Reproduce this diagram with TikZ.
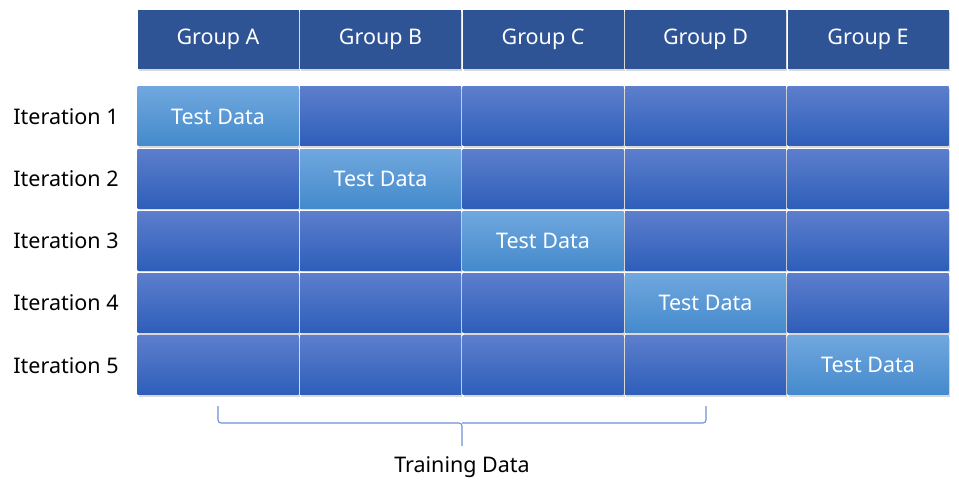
\documentclass[tikz,border=0pt]{standalone}
\usepackage{fontspec}
\setmainfont{Noto Sans}
\usepackage{tikz}
\usetikzlibrary{shadows, positioning}
\usepackage{xcolor}

\definecolor{headblue}{RGB}{47,84,150}
\definecolor{trainTop}{RGB}{92,126,204}
\definecolor{trainBot}{RGB}{46,94,186}
\definecolor{testTop}{RGB}{112,167,222}
\definecolor{testBot}{RGB}{68,138,204}
\definecolor{braceblue}{RGB}{110,145,212}

\begin{document}
\begin{tikzpicture}[
	x=1pt, y=-1pt,
	every node/.style={font=\fontsize{21.5}{25}\selectfont},
	block/.style={minimum width=161pt, minimum height=59pt, inner sep=0pt, text=white,
		drop shadow={shadow xshift=1pt, shadow yshift=-2pt, opacity=0.3}},
	header/.style={block, fill=headblue},
	train cell/.style={block, top color=trainTop, bottom color=trainBot},
	test cell/.style={block, top color=testTop, bottom color=testBot},
	row label/.style={text=black},
	brace line/.style={draw=braceblue, line width=1.1pt, rounded corners=3pt}
	]
	\useasboundingbox (0,0) rectangle (959,492);

	% =====================================================
	% KOPFZEILE (Gruppen)
	% =====================================================
	\node[header] (GroupA) at (218,39.5) {Group A};
	\node[header] (GroupB) at (380.5,39.5) {Group B};
	\node[header] (GroupC) at (543,39.5) {Group C};
	\node[header] (GroupD) at (705.5,39.5) {Group D};
	\node[header] (GroupE) at (868,39.5) {Group E};

	% =====================================================
	% ITERATIONEN
	% =====================================================
	\foreach \i in {1,...,5} {
		\node[row label] (Iter\i) at (66,{116.5+62.2*(\i-1)}) {Iteration \i};
		\foreach \j in {1,...,5} {
			\ifnum\i=\j
				\node[test cell] (Cell\i\j) at ({218+162.5*(\j-1)},{116.5+62.2*(\i-1)}) {Test Data};
			\else
				\node[train cell] (Cell\i\j) at ({218+162.5*(\j-1)},{116.5+62.2*(\i-1)}) {};
			\fi
		}
	}

	% =====================================================
	% KLAMMER TRAINING DATA
	% =====================================================
	\coordinate (BraceL) at (218,406);
	\coordinate (BraceR) at (706,406);
	\coordinate (BraceMid) at (462,423);
	\coordinate (BraceTip) at (462,446);
	\draw[brace line] (BraceL) |- (BraceMid) -- (BraceTip);
	\draw[brace line] (BraceR) |- (BraceMid);

	\node[row label] (Training) at (462,467) {Training Data};

\end{tikzpicture}
\end{document}
